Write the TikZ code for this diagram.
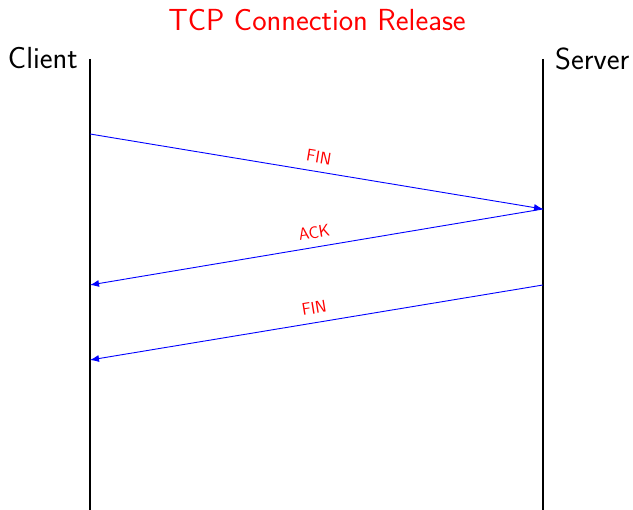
\documentclass[tikz,border=0pt]{standalone}
\usetikzlibrary{arrows.meta}
\renewcommand{\familydefault}{\sfdefault}
\begin{document}
\begin{tikzpicture}[x=1pt,y=-1pt,
  lifeline/.style={line width=1.8pt,black},
  msg/.style={draw=blue,line width=0.9pt,-{Latex[length=9pt,width=7pt]}},
  msglabel/.style={text=red,font=\fontsize{17}{20}\selectfont,above=5pt,sloped,midway},
  party/.style={font=\fontsize{30.5}{34}\selectfont,inner sep=0pt}]
\useasboundingbox (0,0) rectangle (633,510);
\node[text=red,font=\fontsize{30.5}{34}\selectfont,inner sep=0pt] (title) at (317,20) {TCP Connection Release};
\node[party,anchor=east] (client) at (78,58.5) {Client};
\node[party,anchor=west] (server) at (555,58.5) {Server};
\coordinate (ctop) at (90,59);
\coordinate (cbot) at (90,510);
\coordinate (stop) at (543,59);
\coordinate (sbot) at (543,510);
\draw[lifeline] (ctop) -- (cbot);
\draw[lifeline] (stop) -- (sbot);
\coordinate (c1) at (90,134);
\coordinate (s1) at (543,209);
\coordinate (c2) at (90,285);
\coordinate (s2) at (543,285);
\coordinate (c3) at (90,360);
\draw[msg] (c1) -- node[msglabel]{FIN} (s1);
\draw[msg] (s1) -- node[msglabel]{ACK} (c2);
\draw[msg] (s2) -- node[msglabel]{FIN} (c3);
\end{tikzpicture}
\end{document}
